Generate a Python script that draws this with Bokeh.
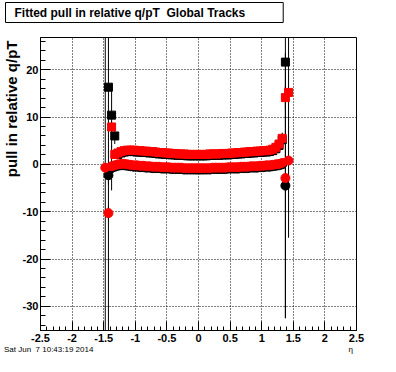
import math
from bokeh.plotting import figure
from bokeh.models import (Range1d, SingleIntervalTicker, FixedTicker, LinearAxis, Title,
                          CustomJSTickFormatter)
from bokeh.embed import file_html
from bokeh.resources import INLINE

nan = float("nan")

# bin centres in eta
eta = [-1.475, -1.425, -1.375, -1.325, -1.275, -1.225, -1.175, -1.125, -1.075, -1.025,
       -0.975, -0.925, -0.875, -0.825, -0.775, -0.725, -0.675, -0.625, -0.575, -0.525,
       -0.475, -0.425, -0.375, -0.325, -0.275, -0.225, -0.175, -0.125, -0.075, -0.025,
       0.025, 0.075, 0.125, 0.175, 0.225, 0.275, 0.325, 0.375, 0.425, 0.475,
       0.525, 0.575, 0.625, 0.675, 0.725, 0.775, 0.825, 0.875, 0.925, 0.975,
       1.025, 1.075, 1.125, 1.175, 1.225, 1.275, 1.325, 1.375, 1.425]

# black squares
black_sq = [nan, 16.3, 10.4, 6.0, 2.1, 2.4, 2.6, 2.7, 2.7, 2.7,
            2.6, 2.6, 2.5, 2.5, 2.4, 2.4, 2.3, 2.2, 2.2, 2.1,
            2.1, 2.0, 2.0, 1.9, 1.9, 1.9, 1.8, 1.8, 1.8, 1.8,
            1.8, 1.8, 1.8, 1.9, 1.9, 1.9, 1.9, 2.0, 2.0, 2.0,
            2.1, 2.1, 2.2, 2.2, 2.3, 2.3, 2.4, 2.4, 2.5, 2.5,
            2.6, 2.6, 2.7, 2.9, 3.3, 4.0, 5.2, 21.6, nan]
black_sq_err = [0.0, 56.0, 6.8, 1.7, 0.4, 0.2, 0.2, 0.2, 0.2, 0.2,
                0.2, 0.2, 0.2, 0.2, 0.2, 0.2, 0.2, 0.2, 0.2, 0.2,
                0.2, 0.2, 0.2, 0.2, 0.2, 0.2, 0.2, 0.2, 0.2, 0.2,
                0.2, 0.2, 0.2, 0.2, 0.2, 0.2, 0.2, 0.2, 0.2, 0.2,
                0.2, 0.2, 0.2, 0.2, 0.2, 0.2, 0.2, 0.2, 0.2, 0.2,
                0.2, 0.2, 0.2, 0.3, 0.4, 0.6, 1.5, 54.1, 0.0]

# black circles
black_ci = [nan, -2.3, -0.8, -0.5, -0.3, -0.2, -0.2, -0.3, -0.4, -0.5,
            -0.5, -0.6, -0.6, -0.7, -0.7, -0.8, -0.8, -0.8, -0.9, -0.9,
            -0.9, -1.0, -1.0, -1.0, -1.0, -1.1, -1.1, -1.1, -1.1, -1.1,
            -1.1, -1.1, -1.1, -1.1, -1.0, -1.0, -1.0, -1.0, -1.0, -0.9,
            -0.9, -0.9, -0.9, -0.8, -0.8, -0.8, -0.7, -0.7, -0.7, -0.6,
            -0.6, -0.5, -0.5, -0.4, -0.3, -0.2, 0.0, -4.5, nan]
black_ci_err = [0.0, 2.0, 4.7, 0.5, 0.2, 0.2, 0.2, 0.2, 0.2, 0.2,
                0.2, 0.2, 0.2, 0.2, 0.2, 0.2, 0.2, 0.2, 0.2, 0.2,
                0.2, 0.2, 0.2, 0.2, 0.2, 0.2, 0.2, 0.2, 0.2, 0.2,
                0.2, 0.2, 0.2, 0.2, 0.2, 0.2, 0.2, 0.2, 0.2, 0.2,
                0.2, 0.2, 0.2, 0.2, 0.2, 0.2, 0.2, 0.2, 0.2, 0.2,
                0.2, 0.2, 0.2, 0.2, 0.2, 0.3, 0.4, 28.0, 0.0]

# red squares
red_sq = [nan, nan, 7.9, 2.1, 2.4, 2.7, 2.9, 3.0, 3.0, 3.0,
          2.9, 2.9, 2.8, 2.8, 2.7, 2.7, 2.6, 2.5, 2.5, 2.4,
          2.4, 2.3, 2.3, 2.2, 2.2, 2.2, 2.1, 2.1, 2.1, 2.1,
          2.1, 2.1, 2.1, 2.2, 2.2, 2.2, 2.2, 2.3, 2.3, 2.3,
          2.4, 2.4, 2.5, 2.5, 2.6, 2.6, 2.7, 2.7, 2.8, 2.8,
          2.9, 2.9, 3.0, 3.2, 3.6, 4.3, 5.5, 14.1, 15.2]
red_sq_err = [0.0, 0.0, 1.2, 0.4, 0.2, 0.2, 0.2, 0.2, 0.2, 0.2,
              0.2, 0.2, 0.2, 0.2, 0.2, 0.2, 0.2, 0.2, 0.2, 0.2,
              0.2, 0.2, 0.2, 0.2, 0.2, 0.2, 0.2, 0.2, 0.2, 0.2,
              0.2, 0.2, 0.2, 0.2, 0.2, 0.2, 0.2, 0.2, 0.2, 0.2,
              0.2, 0.2, 0.2, 0.2, 0.2, 0.2, 0.2, 0.2, 0.2, 0.2,
              0.2, 0.2, 0.2, 0.3, 0.4, 0.6, 0.9, 2.5, 30.7]

# red circles
red_ci = [-0.7, -10.3, -0.4, -0.2, 0.0, 0.1, 0.1, 0.0, -0.1, -0.2,
          -0.2, -0.3, -0.3, -0.4, -0.4, -0.5, -0.5, -0.5, -0.6, -0.6,
          -0.6, -0.7, -0.7, -0.7, -0.7, -0.8, -0.8, -0.8, -0.8, -0.8,
          -0.8, -0.8, -0.8, -0.8, -0.7, -0.7, -0.7, -0.7, -0.7, -0.6,
          -0.6, -0.6, -0.6, -0.5, -0.5, -0.5, -0.4, -0.4, -0.4, -0.3,
          -0.3, -0.2, -0.2, -0.1, 0.0, 0.1, 0.3, -2.9, 0.8]
red_ci_err = [70.0, 1.5, 0.3, 0.2, 0.2, 0.2, 0.2, 0.2, 0.2, 0.2,
              0.2, 0.2, 0.2, 0.2, 0.2, 0.2, 0.2, 0.2, 0.2, 0.2,
              0.2, 0.2, 0.2, 0.2, 0.2, 0.2, 0.2, 0.2, 0.2, 0.2,
              0.2, 0.2, 0.2, 0.2, 0.2, 0.2, 0.2, 0.2, 0.2, 0.2,
              0.2, 0.2, 0.2, 0.2, 0.2, 0.2, 0.2, 0.2, 0.2, 0.2,
              0.2, 0.2, 0.2, 0.2, 0.2, 0.3, 0.4, 0.6, 0.5]

title_text = "Fitted pull in relative q/pT\u00a0 Global Tracks"
y_title = "pull in relative q/pT"
x_title = "\u03b7"
date_text = "Sat Jun\u00a0 7 10:43:19 2014"
# eta positions of the footer texts (date at left, axis title at right)
footer_pos = [-2.37, 2.41]

FONT = "Liberation Sans"

p = figure(width=380, height=356, output_backend="svg", toolbar_location=None,
           x_range=Range1d(-2.5, 2.5), y_range=Range1d(-35.1, 26.8),
           min_border_left=39, min_border_right=24, min_border_top=37, min_border_bottom=24)
p.outline_line_color = "black"
p.outline_line_width = 1
p.background_fill_color = "white"
p.border_fill_color = "white"

fmt = CustomJSTickFormatter(code="return (Math.round(tick*10)/10).toString();")
p.xaxis.ticker = SingleIntervalTicker(interval=0.5, num_minor_ticks=5)
p.yaxis.ticker = SingleIntervalTicker(interval=10, num_minor_ticks=5)
for ax in p.xaxis:
    ax.major_tick_in = 9
    ax.minor_tick_in = 4
    ax.major_label_standoff = 3
for ax in p.yaxis:
    ax.major_tick_in = 10
    ax.minor_tick_in = 5
    ax.major_label_standoff = 2
for ax in p.axis:
    ax.formatter = fmt
    ax.major_tick_out = 0
    ax.minor_tick_out = 0
    ax.axis_line_color = "black"
    ax.major_tick_line_color = "black"
    ax.minor_tick_line_color = "black"
    ax.major_label_text_font = FONT
    ax.major_label_text_font_style = "bold"
    ax.major_label_text_font_size = "11px"
    ax.major_label_text_color = "black"

for g in (p.xgrid, p.ygrid):
    g.grid_line_color = "black"
    g.grid_line_dash = "1 2"
    g.grid_line_width = 1


def lo(y, e):
    return [a - b for a, b in zip(y, e)]


def hi(y, e):
    return [a + b for a, b in zip(y, e)]


series = [
    (black_sq, black_sq_err, "square", 8, "black"),
    (black_ci, black_ci_err, "circle", 9, "black"),
    (red_sq, red_sq_err, "square", 8, "red"),
    (red_ci, red_ci_err, "circle", 9, "red"),
]
for y, e, marker, size, color in series:
    p.segment(x0=eta, y0=lo(y, e), x1=eta, y1=hi(y, e), line_color="black", line_width=1)
    p.scatter(x=eta, y=y, marker=marker, size=size, fill_color=color, line_color=color)

# footer row: date (left) and axis title eta (right)
footer = LinearAxis(ticker=FixedTicker(ticks=footer_pos, minor_ticks=[]),
                    major_label_overrides={footer_pos[0]: date_text, footer_pos[1]: x_title})
footer.axis_line_color = None
footer.major_tick_line_color = None
footer.minor_tick_line_color = None
footer.major_tick_in = 0
footer.major_tick_out = 0
footer.minor_tick_in = 0
footer.minor_tick_out = 0
footer.major_label_standoff = 0
footer.major_label_text_font = FONT
footer.major_label_text_font_size = "8px"
footer.major_label_text_color = "black"
p.add_layout(footer, "below")

# empty spacer between the frame and the boxed title
p.add_layout(Title(text="\u00a0", text_font_size="8px", standoff=4, text_color="white"), "above")

# main title in a box
p.title.text = title_text
p.title.align = "left"
p.title.offset = -35
p.title.standoff = 0
p.title.text_font = FONT
p.title.text_font_style = "bold"
p.title.text_font_size = "12px"
p.title.text_color = "black"
p.title.border_line_color = "black"
p.title.border_line_width = 1
p.title.background_fill_color = "white"
try:
    p.title.padding = dict(left=9, right=38, top=3, bottom=3)
except Exception:
    pass

# y axis title, aligned to the top end of the axis
p.add_layout(Title(text=y_title, align="right", offset=3, standoff=0,
                   text_font=FONT, text_font_style="bold", text_font_size="15px",
                   text_color="black"), "left")

open("out.html", "w").write(file_html(p, INLINE))
